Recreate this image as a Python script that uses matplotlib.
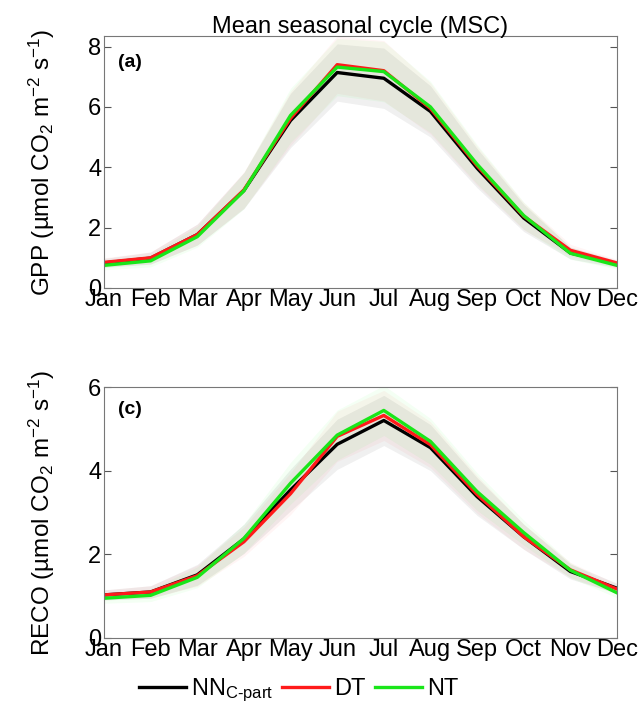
import numpy as np
import matplotlib
matplotlib.use('Agg')
import matplotlib.pyplot as plt
from matplotlib import rcParams

rcParams['font.family'] = ['Liberation Sans', 'DejaVu Sans']
rcParams['mathtext.fontset'] = 'custom'
rcParams['mathtext.rm'] = 'Liberation Sans'
rcParams['mathtext.it'] = 'Liberation Sans:italic'

months = ['Jan', 'Feb', 'Mar', 'Apr', 'May', 'Jun', 'Jul', 'Aug', 'Sep', 'Oct', 'Nov', 'Dec']

# GPP mean seasonal cycle
gpp_nn = [0.83, 0.99, 1.77, 3.23, 5.55, 7.14, 6.95, 5.85, 3.97, 2.32, 1.16, 0.80]
gpp_dt = [0.85, 1.00, 1.77, 3.25, 5.62, 7.40, 7.20, 5.95, 4.05, 2.38, 1.25, 0.83]
gpp_nt = [0.75, 0.90, 1.70, 3.22, 5.72, 7.32, 7.17, 6.00, 4.10, 2.40, 1.15, 0.75]
gpp_sd = [0.15, 0.20, 0.35, 0.60, 0.90, 0.95, 1.00, 0.85, 0.65, 0.45, 0.20, 0.12]

# RECO mean seasonal cycle
reco_nn = [1.03, 1.10, 1.51, 2.37, 3.54, 4.63, 5.20, 4.55, 3.38, 2.42, 1.59, 1.19]
reco_dt = [1.03, 1.10, 1.49, 2.30, 3.45, 4.82, 5.32, 4.62, 3.43, 2.42, 1.63, 1.17]
reco_nt = [0.95, 1.02, 1.45, 2.38, 3.70, 4.85, 5.44, 4.70, 3.50, 2.52, 1.62, 1.08]
reco_sd = [0.12, 0.15, 0.25, 0.35, 0.50, 0.60, 0.60, 0.55, 0.45, 0.30, 0.18, 0.12]

x = np.arange(1, 13)
cols = {'nn': 'black', 'dt': '#ff1a1a', 'nt': '#19e619'}
fs = 17

fig = plt.figure(figsize=(6.39, 7.10), dpi=100)
ax1 = fig.add_axes([104/639, 1-288/710, 513/639, 252/710])
ax2 = fig.add_axes([104/639, 1-638/710, 513/639, 251/710])


def panel(ax, nn, dt, nt, sd, ymax, yticks, ylab, tag, tag_y):
    sd = np.array(sd)
    for series, c, a in [(nn, (0, 0, 0), 0.06), (dt, (1, 0, 0), 0.04), (nt, (0, 1, 0), 0.045)]:
        s = np.array(series)
        ax.fill_between(x, s - sd, s + sd, color=c, alpha=a, lw=0)
    ax.plot(x, nn, color=cols['nn'], lw=2.4, label=r'NN$_{\mathrm{C\text{-}part}}$')
    ax.plot(x, dt, color=cols['dt'], lw=2.4, label='DT')
    ax.plot(x, nt, color=cols['nt'], lw=2.4, label='NT')
    ax.set_xlim(1, 12)
    ax.set_ylim(0, ymax)
    ax.set_yticks(yticks)
    ax.set_xticks(x)
    ax.set_xticklabels(months)
    ax.tick_params(axis='x', which='major', length=0, pad=1, labelsize=fs)
    ax.set_xticks([2, 4, 6, 8, 10], minor=True)
    ax.tick_params(axis='x', which='minor', direction='in', top=True, length=5, color='#555555')
    ax.tick_params(axis='y', direction='in', right=True, length=5, labelsize=fs, pad=2, color='#555555')
    for sp in ax.spines.values():
        sp.set_color('#777777')
        sp.set_linewidth(0.8)
    ax.set_ylabel(ylab, fontsize=fs + 0.5, labelpad=22)
    ax.text(0.028, tag_y, tag, transform=ax.transAxes, fontsize=14, fontweight='bold', va='top')


panel(ax1, gpp_nn, gpp_dt, gpp_nt, gpp_sd, 8.35, [0, 2, 4, 6, 8],
      r'GPP (µmol CO$_2$ m$^{-2}$ s$^{-1}$)', '(a)', 0.93)
panel(ax2, reco_nn, reco_dt, reco_nt, reco_sd, 6, [0, 2, 4, 6],
      r'RECO (µmol CO$_2$ m$^{-2}$ s$^{-1}$)', '(c)', 0.945)

ax1.set_title('Mean seasonal cycle (MSC)', fontsize=fs, pad=2)

h, l = ax2.get_legend_handles_labels()
fig.legend(h, l, loc='lower center', bbox_to_anchor=(0.467, -0.022), ncol=3, frameon=False,
           fontsize=fs, handlelength=2.0, handletextpad=0.2, columnspacing=0.4)

fig.savefig('out.png', dpi=100)
